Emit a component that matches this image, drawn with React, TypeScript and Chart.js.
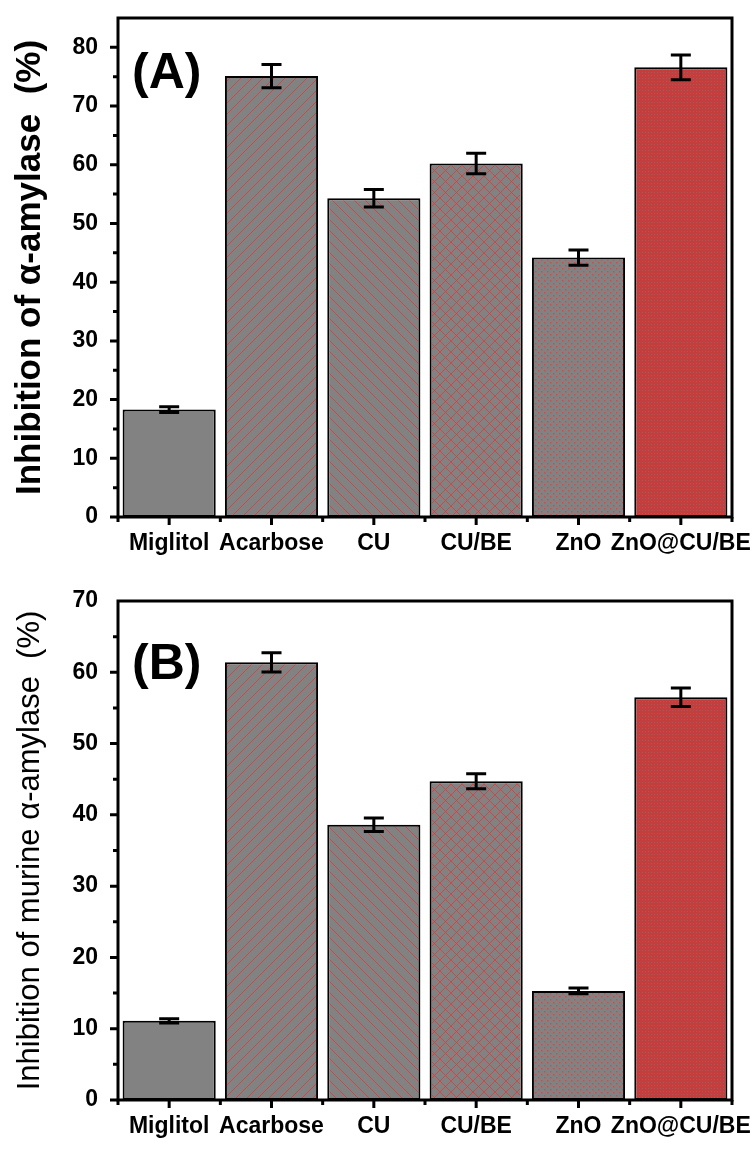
import React, { useEffect, useRef } from "react";
import { Chart, registerables } from "chart.js";
Chart.register(...registerables);

const categories = ["Miglitol", "Acarbose", "CU", "CU/BE", "ZnO", "ZnO@CU/BE"];
const valuesA = [18.3, 75.1, 54.3, 60.2, 44.2, 76.6];
const errorsA = [0.5, 2.0, 1.5, 1.75, 1.3, 2.1];
const valuesB = [11.1, 61.4, 38.6, 44.7, 15.3, 56.5];
const errorsB = [0.3, 1.35, 0.95, 1.05, 0.4, 1.3];
const yTicksA = [0, 10, 20, 30, 40, 50, 60, 70, 80];
const yTicksB = [0, 10, 20, 30, 40, 50, 60, 70];
const patternKinds = ["plain", "slash", "backslash", "cross", "dots", "dense"];

const W = 754;
const GRAY = "#828282";
const RED = "rgba(225,55,55,0.85)";
const FONT = "'Liberation Sans', Arial, sans-serif";

function makePattern(kind: string): CanvasPattern | string {
  if (kind === "plain") return GRAY;
  const c = document.createElement("canvas");
  let s = 11;
  if (kind === "dots") s = 6;
  if (kind === "dense") s = 3;
  c.width = s;
  c.height = s;
  const g = c.getContext("2d")!;
  g.fillStyle = GRAY;
  g.fillRect(0, 0, s, s);
  g.strokeStyle = RED;
  g.lineWidth = 0.9;
  if (kind === "slash" || kind === "cross") {
    g.beginPath();
    for (const k of [-s, 0, s]) {
      g.moveTo(k, s);
      g.lineTo(k + s, 0);
    }
    g.stroke();
  }
  if (kind === "backslash" || kind === "cross") {
    g.beginPath();
    for (const k of [-s, 0, s]) {
      g.moveTo(k, 0);
      g.lineTo(k + s, s);
    }
    g.stroke();
  }
  if (kind === "dots") {
    g.fillStyle = "#cf4c4c";
    g.fillRect(1, 1, 1.5, 1.5);
    g.fillRect(4, 4, 1.5, 1.5);
  }
  if (kind === "dense") {
    g.fillStyle = "#c53e3e";
    g.fillRect(0, 0, s, s);
    g.fillStyle = "#a45a5a";
    g.fillRect(0, 0, 1, 1);
  }
  return g.createPattern(c, "repeat")!;
}

const decorPlugin = {
  id: "decor",
  afterDatasetsDraw(chart: any, _args: any, opts: any) {
    const { ctx, chartArea } = chart;
    const x = chart.scales.x;
    const y = chart.scales.y;
    const meta = chart.getDatasetMeta(0);
    const vals: number[] = chart.data.datasets[0].data;
    const errs: number[] = opts.errors;
    ctx.save();
    ctx.strokeStyle = "#000";
    ctx.lineWidth = 3;
    ctx.lineCap = "butt";
    meta.data.forEach((bar: any, i: number) => {
      const v = vals[i];
      const e = errs[i];
      const yt = y.getPixelForValue(v + e);
      const yb = y.getPixelForValue(v - e);
      ctx.beginPath();
      ctx.moveTo(bar.x, yt);
      ctx.lineTo(bar.x, yb);
      ctx.moveTo(bar.x - 10, yt);
      ctx.lineTo(bar.x + 10, yt);
      ctx.moveTo(bar.x - 10, yb);
      ctx.lineTo(bar.x + 10, yb);
      ctx.stroke();
    });
    // frame
    ctx.lineWidth = 3;
    ctx.strokeRect(chartArea.left, chartArea.top, chartArea.right - chartArea.left, chartArea.bottom - chartArea.top);
    // y ticks
    const ticks: number[] = opts.yTicks;
    ctx.beginPath();
    for (let v = 0; v < y.max - 0.001; v += 5) {
      const py = y.getPixelForValue(v);
      const major = ticks.indexOf(v) >= 0;
      ctx.moveTo(chartArea.left, py);
      ctx.lineTo(chartArea.left - (major ? 8 : 5), py);
    }
    // x ticks
    const n = vals.length;
    for (let i = 0; i < n; i++) {
      const px = x.getPixelForValue(i);
      ctx.moveTo(px, chartArea.bottom);
      ctx.lineTo(px, chartArea.bottom + 8);
    }
    for (let i = 0; i <= n; i++) {
      const px = x.getPixelForValue(i - 0.5);
      ctx.moveTo(px, chartArea.bottom);
      ctx.lineTo(px, chartArea.bottom + 5);
    }
    ctx.stroke();
    // panel label
    ctx.fillStyle = "#000";
    ctx.font = "bold 50px " + FONT;
    ctx.textBaseline = "middle";
    ctx.textAlign = "left";
    ctx.fillText(opts.label, chartArea.left + 14, chartArea.top + opts.labelDy);
    ctx.restore();
  },
};

type PanelProps = {
  values: number[];
  errors: number[];
  yMax: number;
  yTicks: number[];
  title: string;
  titleBold: boolean;
  titleSize: number;
  label: string;
  labelDy: number;
  height: number;
  plotTop: number;
  plotBottom: number;
};

function Panel(p: PanelProps) {
  const ref = useRef<HTMLCanvasElement>(null);
  useEffect(() => {
    const canvas = ref.current!;
    const fills = patternKinds.map((k) => makePattern(k));
    const lh = p.titleSize * 1.2;
    const chart = new Chart(canvas, {
      type: "bar",
      data: {
        labels: categories,
        datasets: [
          {
            data: p.values,
            backgroundColor: fills as any,
            borderColor: "#000",
            borderWidth: 2,
            borderSkipped: false,
            barPercentage: 0.91,
            categoryPercentage: 1,
          },
        ],
      },
      options: {
        responsive: false,
        animation: false,
        events: [],
        layout: { padding: { top: p.plotTop, right: W - 732, left: 0, bottom: 0 } },
        scales: {
          x: {
            grid: { display: false, drawTicks: false },
            border: { display: false },
            ticks: {
              color: "#000",
              padding: 13,
              maxRotation: 0,
              autoSkip: false,
              font: { family: FONT, size: 23, weight: "bold" },
            },
            afterFit: (s: any) => {
              s.height = p.height - p.plotBottom;
              s.paddingLeft = 0;
              s.paddingRight = 0;
            },
          },
          y: {
            min: 0,
            max: p.yMax,
            afterBuildTicks: (s: any) => {
              s.ticks = p.yTicks.map((v) => ({ value: v }));
            },
            grid: { display: false, drawTicks: false },
            border: { display: false },
            ticks: {
              color: "#000",
              padding: 20,
              font: { family: FONT, size: 23, weight: "bold" },
            },
            title: {
              display: true,
              text: p.title,
              color: "#000",
              padding: { top: 30 - lh / 2, bottom: 0 },
              font: { family: FONT, size: p.titleSize, weight: p.titleBold ? "bold" : "normal" },
            },
            afterFit: (s: any) => {
              s.width = 118;
              s.paddingTop = 0;
              s.paddingBottom = 0;
            },
          },
        },
        plugins: {
          legend: { display: false },
          tooltip: { enabled: false },
          decor: { errors: p.errors, yTicks: p.yTicks, label: p.label, labelDy: p.labelDy },
        } as any,
      },
      plugins: [decorPlugin as any],
    });
    return () => chart.destroy();
  }, []);
  return <canvas ref={ref} width={W} height={p.height} style={{ display: "block", width: W, height: p.height }} />;
}

export default function App() {
  return (
    <div style={{ position: "absolute", left: 0, top: 0, width: W, height: 1151, background: "#fff" }}>
      <Panel
        values={valuesA}
        errors={errorsA}
        yMax={85}
        yTicks={yTicksA}
        title="Inhibition of α-amylase  (%)"
        titleBold={true}
        titleSize={35}
        label="(A)"
        labelDy={56}
        height={575}
        plotTop={18}
        plotBottom={517}
      />
      <Panel
        values={valuesB}
        errors={errorsB}
        yMax={70}
        yTicks={yTicksB}
        title="Inhibition of murine α-amylase  (%)"
        titleBold={false}
        titleSize={31}
        label="(B)"
        labelDy={64}
        height={576}
        plotTop={26}
        plotBottom={525}
      />
    </div>
  );
}
